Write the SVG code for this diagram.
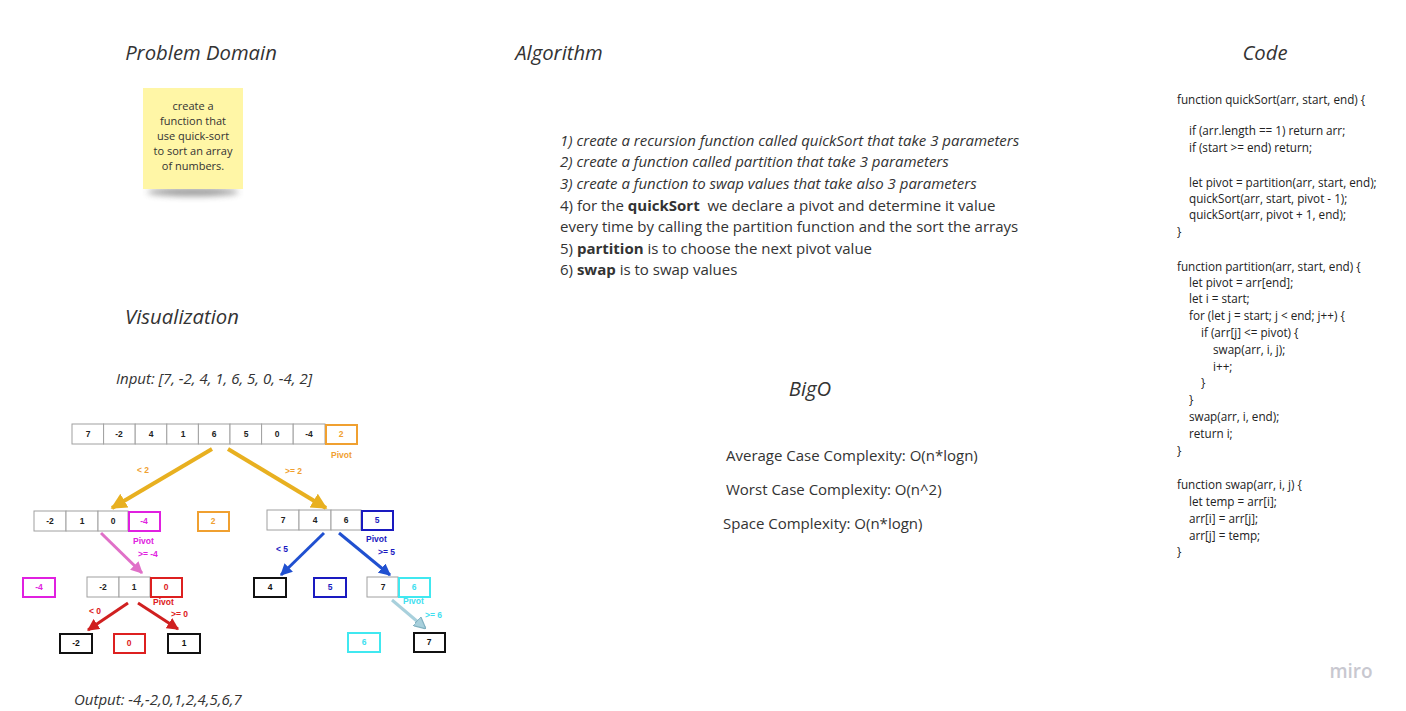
<svg xmlns="http://www.w3.org/2000/svg" width="1406" height="711" viewBox="0 0 1406 711">
<defs>
<style>
.h{font-family:"Open Sans","Noto Sans",sans-serif;font-style:italic;font-size:20.3px;fill:#333}
.t{font-family:"Open Sans","Noto Sans",sans-serif;font-size:15px;fill:#333}
.ti{font-family:"Open Sans","Noto Sans",sans-serif;font-size:15px;font-style:italic;fill:#333}
.c{font-family:"Open Sans","Noto Sans",sans-serif;font-size:11.7px;fill:#222}
.n{font-family:"Open Sans","Noto Sans",sans-serif;font-size:11px;fill:#333;text-anchor:middle}
.v{font-family:"Liberation Sans",Arial,sans-serif;font-size:8.5px;font-weight:bold;text-anchor:middle}
.lb{font-family:"Liberation Sans",Arial,sans-serif;font-size:8.5px;font-weight:bold}
.cell{fill:#fff;stroke:#a0a0a0;stroke-width:1}
.blk{fill:#fff;stroke:#111;stroke-width:2}
.org{fill:#fff;stroke:#f0a030;stroke-width:2}
.mag{fill:#fff;stroke:#e020e0;stroke-width:2}
.red{fill:#fff;stroke:#dd2020;stroke-width:2}
.blu{fill:#fff;stroke:#1a1ac0;stroke-width:2}
.cya{fill:#fff;stroke:#40e8f0;stroke-width:2}
</style>
<marker id="mO" viewBox="0 0 10 10" refX="9" refY="5" markerWidth="16" markerHeight="16" markerUnits="userSpaceOnUse" orient="auto"><path d="M0,0 L10,5 L0,10 z" fill="#e8b020"/></marker>
<marker id="mP" viewBox="0 0 10 10" refX="9" refY="5" markerWidth="12" markerHeight="12" markerUnits="userSpaceOnUse" orient="auto"><path d="M0,0 L10,5 L0,10 z" fill="#e070c8"/></marker>
<marker id="mR" viewBox="0 0 10 10" refX="9" refY="5" markerWidth="12" markerHeight="12" markerUnits="userSpaceOnUse" orient="auto"><path d="M0,0 L10,5 L0,10 z" fill="#d02020"/></marker>
<marker id="mB" viewBox="0 0 10 10" refX="9" refY="5" markerWidth="12" markerHeight="12" markerUnits="userSpaceOnUse" orient="auto"><path d="M0,0 L10,5 L0,10 z" fill="#2050d0"/></marker>
<marker id="mC" viewBox="0 0 10 10" refX="9" refY="5" markerWidth="12" markerHeight="12" markerUnits="userSpaceOnUse" orient="auto"><path d="M0,0 L10,5 L0,10 z" fill="#a8d0dc" stroke="#80b0c0" stroke-width="1"/></marker>
<filter id="sh" x="-30%" y="-200%" width="160%" height="500%"><feGaussianBlur stdDeviation="3"/></filter>
</defs>
<rect width="1406" height="711" fill="#fff"/>

<g id="headings">
<text class="h" x="201" y="60" text-anchor="middle">Problem Domain</text>
<text class="h" x="559" y="60" text-anchor="middle">Algorithm</text>
<text class="h" x="1265" y="60" text-anchor="middle">Code</text>
<text class="h" x="182" y="324" text-anchor="middle">Visualization</text>
<text class="h" x="810" y="396" text-anchor="middle">BigO</text>
</g>

<g id="sticky">
<ellipse cx="193" cy="192" rx="46" ry="4" fill="#555" opacity="0.6" filter="url(#sh)"/>
<rect x="143" y="88" width="100" height="101" fill="#fff6a6"/>
<text class="n" x="193" y="110">create a</text>
<text class="n" x="193" y="125">function that</text>
<text class="n" x="193" y="140">use quick-sort</text>
<text class="n" x="193" y="155">to sort an array</text>
<text class="n" x="193" y="170">of numbers.</text>
</g>

<g id="algorithm">
<text class="ti" x="560" y="146">1) create a recursion function called quickSort that take 3 parameters</text>
<text class="ti" x="560" y="167">2) create a function called partition that take 3 parameters</text>
<text class="ti" x="560" y="189">3) create a function to swap values that take also 3 parameters</text>
<text class="t" x="560" y="211">4) for the <tspan font-weight="bold">quickSort</tspan>&#160; we declare a pivot and determine it value</text>
<text class="t" x="560" y="232">every time by calling the partition function and the sort the arrays</text>
<text class="t" x="560" y="254">5) <tspan font-weight="bold">partition</tspan> is to choose the next pivot value</text>
<text class="t" x="560" y="275">6) <tspan font-weight="bold">swap</tspan> is to swap values</text>
</g>

<g id="bigo">
<text class="t" x="726" y="461">Average Case Complexity: O(n*logn)</text>
<text class="t" x="726" y="495">Worst Case Complexity: O(n^2)</text>
<text class="t" x="723" y="529">Space Complexity: O(n*logn)</text>
</g>

<g id="code">
<text class="c" x="1177" y="104">function quickSort(arr, start, end) {</text>
<text class="c" x="1189" y="135">if (arr.length == 1) return arr;</text>
<text class="c" x="1189" y="152">if (start &gt;= end) return;</text>
<text class="c" x="1189" y="187">let pivot = partition(arr, start, end);</text>
<text class="c" x="1189" y="203">quickSort(arr, start, pivot - 1);</text>
<text class="c" x="1189" y="219">quickSort(arr, pivot + 1, end);</text>
<text class="c" x="1177" y="236">}</text>
<text class="c" x="1177" y="271">function partition(arr, start, end) {</text>
<text class="c" x="1189" y="287">let pivot = arr[end];</text>
<text class="c" x="1189" y="303">let i = start;</text>
<text class="c" x="1189" y="320">for (let j = start; j &lt; end; j++) {</text>
<text class="c" x="1201" y="337">if (arr[j] &lt;= pivot) {</text>
<text class="c" x="1213" y="354">swap(arr, i, j);</text>
<text class="c" x="1213" y="371">i++;</text>
<text class="c" x="1201" y="387">}</text>
<text class="c" x="1189" y="404">}</text>
<text class="c" x="1189" y="421">swap(arr, i, end);</text>
<text class="c" x="1189" y="438">return i;</text>
<text class="c" x="1177" y="455">}</text>
<text class="c" x="1177" y="489">function swap(arr, i, j) {</text>
<text class="c" x="1189" y="506">let temp = arr[i];</text>
<text class="c" x="1189" y="523">arr[i] = arr[j];</text>
<text class="c" x="1189" y="540">arr[j] = temp;</text>
<text class="c" x="1177" y="556">}</text>
</g>

<g id="io">
<text class="ti" x="116" y="384">Input: [7, -2, 4, 1, 6, 5, 0, -4, 2]</text>
<text class="ti" x="74" y="705">Output: -4,-2,0,1,2,4,5,6,7</text>
</g>

<g id="connectors">
<line x1="212" y1="449" x2="112" y2="508" stroke="#e8b020" stroke-width="4" marker-end="url(#mO)"/>
<line x1="228" y1="449" x2="326" y2="508" stroke="#e8b020" stroke-width="4" marker-end="url(#mO)"/>
<line x1="101" y1="533" x2="142" y2="573" stroke="#e070c8" stroke-width="3" marker-end="url(#mP)"/>
<line x1="128" y1="603" x2="88" y2="630" stroke="#d02020" stroke-width="3" marker-end="url(#mR)"/>
<line x1="138" y1="603" x2="178" y2="629" stroke="#d02020" stroke-width="3" marker-end="url(#mR)"/>
<line x1="324" y1="533" x2="281" y2="575" stroke="#2050d0" stroke-width="3" marker-end="url(#mB)"/>
<line x1="339" y1="533" x2="390" y2="575" stroke="#2050d0" stroke-width="3" marker-end="url(#mB)"/>
<line x1="392" y1="600" x2="425" y2="628" stroke="#a8d0dc" stroke-width="3" marker-end="url(#mC)"/>
</g>

<g id="labels">
<text class="lb" x="137" y="473" fill="#f0a030">&lt; 2</text>
<text class="lb" x="285" y="474" fill="#f0a030">&gt;= 2</text>
<text class="lb" x="331" y="458" fill="#f0a030">Pivot</text>
<text class="lb" x="133" y="544" fill="#e020e0">Pivot</text>
<text class="lb" x="138" y="557" fill="#e020e0">&gt;= -4</text>
<text class="lb" x="153" y="605" fill="#dd2020">Pivot</text>
<text class="lb" x="89" y="614" fill="#dd2020">&lt; 0</text>
<text class="lb" x="171" y="617" fill="#dd2020">&gt;= 0</text>
<text class="lb" x="366" y="542" fill="#1a1ac0">Pivot</text>
<text class="lb" x="276" y="552" fill="#1a1ac0">&lt; 5</text>
<text class="lb" x="378" y="555" fill="#1a1ac0">&gt;= 5</text>
<text class="lb" x="403" y="604" fill="#40e0f0">Pivot</text>
<text class="lb" x="425" y="618" fill="#40e0f0">&gt;= 6</text>
</g>

<g id="array-top">
<rect class="cell" x="72" y="424" width="31.6" height="20"/>
<rect class="cell" x="103.6" y="424" width="31.6" height="20"/>
<rect class="cell" x="135.2" y="424" width="31.6" height="20"/>
<rect class="cell" x="166.8" y="424" width="31.6" height="20"/>
<rect class="cell" x="198.4" y="424" width="31.6" height="20"/>
<rect class="cell" x="230" y="424" width="31.6" height="20"/>
<rect class="cell" x="261.6" y="424" width="31.6" height="20"/>
<rect class="cell" x="293.2" y="424" width="31.8" height="20"/>
<rect class="org" x="326" y="425" width="31" height="19"/>
<text class="v" x="88" y="437" fill="#222">7</text>
<text class="v" x="119" y="437" fill="#222">-2</text>
<text class="v" x="151" y="437" fill="#222">4</text>
<text class="v" x="183" y="437" fill="#222">1</text>
<text class="v" x="214" y="437" fill="#222">6</text>
<text class="v" x="246" y="437" fill="#222">5</text>
<text class="v" x="277" y="437" fill="#222">0</text>
<text class="v" x="309" y="437" fill="#222">-4</text>
<text class="v" x="341" y="437" fill="#f0a030">2</text>
</g>

<g id="array-left-2">
<rect class="cell" x="34" y="511" width="32" height="20"/>
<rect class="cell" x="66" y="511" width="32" height="20"/>
<rect class="cell" x="98" y="511" width="30" height="20"/>
<rect class="mag" x="129" y="512" width="31" height="19"/>
<text class="v" x="50" y="524" fill="#222">-2</text>
<text class="v" x="82" y="524" fill="#222">1</text>
<text class="v" x="113" y="524" fill="#222">0</text>
<text class="v" x="144" y="524" fill="#e020e0">-4</text>
</g>

<g id="pivot-2">
<rect class="org" x="198" y="512" width="31" height="19"/>
<text class="v" x="213" y="524" fill="#f0a030">2</text>
</g>

<g id="array-right-2">
<rect class="cell" x="267" y="510" width="32" height="20"/>
<rect class="cell" x="299" y="510" width="32" height="20"/>
<rect class="cell" x="331" y="510" width="30" height="20"/>
<rect class="blu" x="362" y="511" width="31" height="19"/>
<text class="v" x="283" y="523" fill="#222">7</text>
<text class="v" x="315" y="523" fill="#222">4</text>
<text class="v" x="346" y="523" fill="#222">6</text>
<text class="v" x="377" y="523" fill="#1a1ac0">5</text>
</g>

<g id="box-m4">
<rect class="mag" x="23" y="578" width="32" height="19"/>
<text class="v" x="39" y="590" fill="#e020e0">-4</text>
</g>

<g id="array-left-3">
<rect class="cell" x="87" y="577" width="32" height="20"/>
<rect class="cell" x="119" y="577" width="31" height="20"/>
<rect class="red" x="151" y="578" width="31" height="19"/>
<text class="v" x="103" y="590" fill="#222">-2</text>
<text class="v" x="134" y="590" fill="#222">1</text>
<text class="v" x="166" y="590" fill="#dd2020">0</text>
</g>

<g id="box-4">
<rect class="blk" x="254" y="578" width="32" height="19"/>
<text class="v" x="270" y="590" fill="#111">4</text>
</g>

<g id="box-5">
<rect class="blu" x="314" y="578" width="32" height="19"/>
<text class="v" x="330" y="590" fill="#1a1ac0">5</text>
</g>

<g id="array-right-3">
<rect class="cell" x="367" y="577" width="31" height="20"/>
<rect class="cya" x="399" y="578" width="31" height="19"/>
<text class="v" x="383" y="590" fill="#222">7</text>
<text class="v" x="414" y="590" fill="#40e0f0">6</text>
</g>

<g id="box-m2">
<rect class="blk" x="60" y="634" width="32" height="19"/>
<text class="v" x="76" y="646" fill="#111">-2</text>
</g>

<g id="box-0">
<rect class="red" x="114" y="634" width="31" height="19"/>
<text class="v" x="129" y="646" fill="#dd2020">0</text>
</g>

<g id="box-1">
<rect class="blk" x="168" y="634" width="32" height="19"/>
<text class="v" x="184" y="646" fill="#111">1</text>
</g>

<g id="box-6">
<rect class="cya" x="348" y="633" width="32" height="19"/>
<text class="v" x="364" y="645" fill="#40e0f0">6</text>
</g>

<g id="box-7">
<rect class="blk" x="414" y="633" width="31" height="19"/>
<text class="v" x="429" y="645" fill="#111">7</text>
</g>

<g id="logo">
<text x="1351" y="678" text-anchor="middle" font-family="'Open Sans','Noto Sans',sans-serif" font-size="19" font-weight="600" fill="#c8c8d0">miro</text>
</g>
</svg>
